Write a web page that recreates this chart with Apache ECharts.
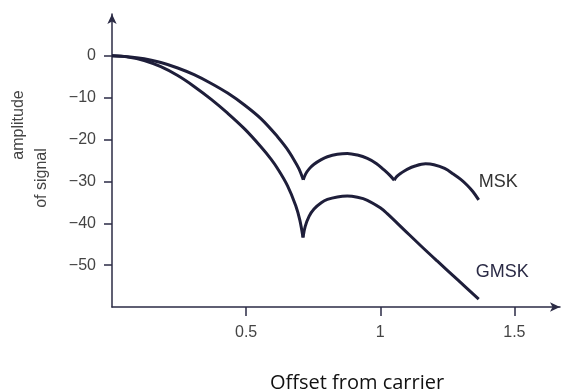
<!DOCTYPE html>
<html>
<head>
<meta charset="utf-8">
<script src="https://cdn.jsdelivr.net/npm/echarts@6/dist/echarts.min.js"></script>
<style>
  html, body { margin: 0; padding: 0; background: #fff; }
  #chart { width: 561px; height: 390px; }
</style>
</head>
<body>
<div id="chart"></div>
<script>
// Spectrum envelopes: amplitude (dB) against offset from the carrier
const mskOffset = [0, 0.06, 0.12, 0.182, 0.245, 0.306, 0.37, 0.431, 0.495, 0.555, 0.617, 0.65, 0.678, 0.697, 0.713,
  0.722, 0.735, 0.753, 0.78, 0.803, 0.84, 0.877, 0.915, 0.952, 0.985, 1.013, 1.035, 1.052,
  1.062, 1.08, 1.10, 1.13, 1.169, 1.20, 1.24, 1.274, 1.30, 1.324, 1.345, 1.367];
const mskAmplitude = [0, -0.2, -0.7, -1.6, -2.9, -4.5, -6.6, -8.9, -11.8, -15.0, -19.3, -22.0, -24.8, -27.0, -29.6,
  -28.2, -27.0, -25.9, -24.8, -24.1, -23.5, -23.3, -23.7, -24.5, -25.7, -27.2, -28.5, -29.7,
  -28.8, -27.9, -27.1, -26.3, -25.8, -26.0, -26.9, -28.3, -29.5, -30.9, -32.4, -34.4];
// Nulls (notches) of the MSK envelope
const mskNotches = [0.713, 1.052];

const gmskOffset = [0, 0.06, 0.12, 0.182, 0.245, 0.306, 0.37, 0.431, 0.495, 0.555, 0.592, 0.617, 0.654, 0.685, 0.70, 0.712,
  0.72, 0.735, 0.753, 0.78, 0.803, 0.84, 0.877, 0.915, 0.952, 1.0, 1.026, 1.088, 1.15, 1.212, 1.29, 1.367];
const gmskAmplitude = [0, -0.3, -1.1, -2.6, -4.7, -7.3, -10.4, -13.7, -17.5, -21.7, -24.6, -26.9, -31.0, -35.8, -39.2, -43.4,
  -40.8, -38.3, -36.6, -35.1, -34.3, -33.7, -33.5, -33.8, -34.5, -36.3, -37.7, -41.5, -45.3, -49.0, -53.6, -58.1];
// Null (notch) of the GMSK envelope
const gmskNotches = [0.712];

const xTickValues = [0.5, 1, 1.5];
const yTickValues = [0, -10, -20, -30, -40, -50];

const seriesNames = ['MSK', 'GMSK'];

// Pair offsets with amplitudes and cut the curve at each notch,
// so every lobe is smoothed on its own and the notches stay sharp.
function lobes(xs, ys, notches) {
  const out = [[]];
  xs.forEach((x, i) => {
    out[out.length - 1].push([x, ys[i]]);
    if (notches.includes(x) && i < xs.length - 1) out.push([[x, ys[i]]]);
  });
  return out;
}

const axisColor = '#2b2b45';
const curveColor = '#1e1e3a';
const tickFont = { fontFamily: 'Liberation Sans, Arial, sans-serif', fontSize: 16, color: '#444' };
const minus = v => String(v).replace('-', '\u2212');

function curveSeries(name, segments, label) {
  return segments.map((seg, k) => ({
    name: name,
    type: 'line',
    data: seg,
    smooth: 0.35,
    showSymbol: false,
    lineStyle: { color: curveColor, width: 3 },
    endLabel: k === segments.length - 1 ? Object.assign({
      show: true,
      formatter: '{a}',
      distance: 0,
      fontFamily: 'Liberation Sans, Arial, sans-serif',
      fontSize: 18
    }, label) : { show: false }
  }));
}

const chart = echarts.init(document.getElementById('chart'), null, { renderer: 'canvas' });

chart.setOption({
  animation: false,
  grid: { left: 112, right: 1, top: 14, bottom: 83, containLabel: false },
  xAxis: {
    type: 'value',
    min: 0,
    max: 1.67,
    interval: 0.5,
    splitLine: { show: false },
    axisLine: {
      show: true,
      onZero: false,
      lineStyle: { color: axisColor, width: 1.5 },
      symbol: ['none', 'arrow'],
      symbolSize: [7, 10]
    },
    axisTick: { show: true, length: 9, customValues: xTickValues, lineStyle: { color: axisColor, width: 1.5 } },
    axisLabel: { customValues: xTickValues, margin: 18, formatter: v => String(v), ...tickFont }
  },
  yAxis: {
    type: 'value',
    min: -60,
    max: 10,
    interval: 10,
    splitLine: { show: false },
    axisLine: {
      show: true,
      onZero: false,
      lineStyle: { color: axisColor, width: 1.5 },
      symbol: ['none', 'arrow'],
      symbolSize: [7, 10]
    },
    axisTick: { show: true, length: 8, customValues: yTickValues, lineStyle: { color: axisColor, width: 1.5 } },
    axisLabel: { customValues: yTickValues, margin: 16, formatter: minus, ...tickFont }
  },
  series: [
    ...curveSeries(seriesNames[0], lobes(mskOffset, mskAmplitude, mskNotches), { offset: [0, -18], color: '#333' }),
    ...curveSeries(seriesNames[1], lobes(gmskOffset, gmskAmplitude, gmskNotches), { offset: [-3, -27], color: '#2a2a45' })
  ],
  graphic: [
    {
      type: 'text',
      x: 19, y: 125, rotation: Math.PI / 2,
      style: { text: 'amplitude', fill: '#444', font: '16px "Liberation Sans", Arial, sans-serif', align: 'center', verticalAlign: 'middle' }
    },
    {
      type: 'text',
      x: 42, y: 178, rotation: Math.PI / 2,
      style: { text: 'of signal', fill: '#444', font: '16px "Liberation Sans", Arial, sans-serif', align: 'center', verticalAlign: 'middle' }
    },
    {
      type: 'text',
      x: 357, y: 383,
      style: { text: 'Offset from carrier', fill: '#111', font: '20px "Open Sans", sans-serif', align: 'center', verticalAlign: 'middle' }
    }
  ]
});
</script>
</body>
</html>
